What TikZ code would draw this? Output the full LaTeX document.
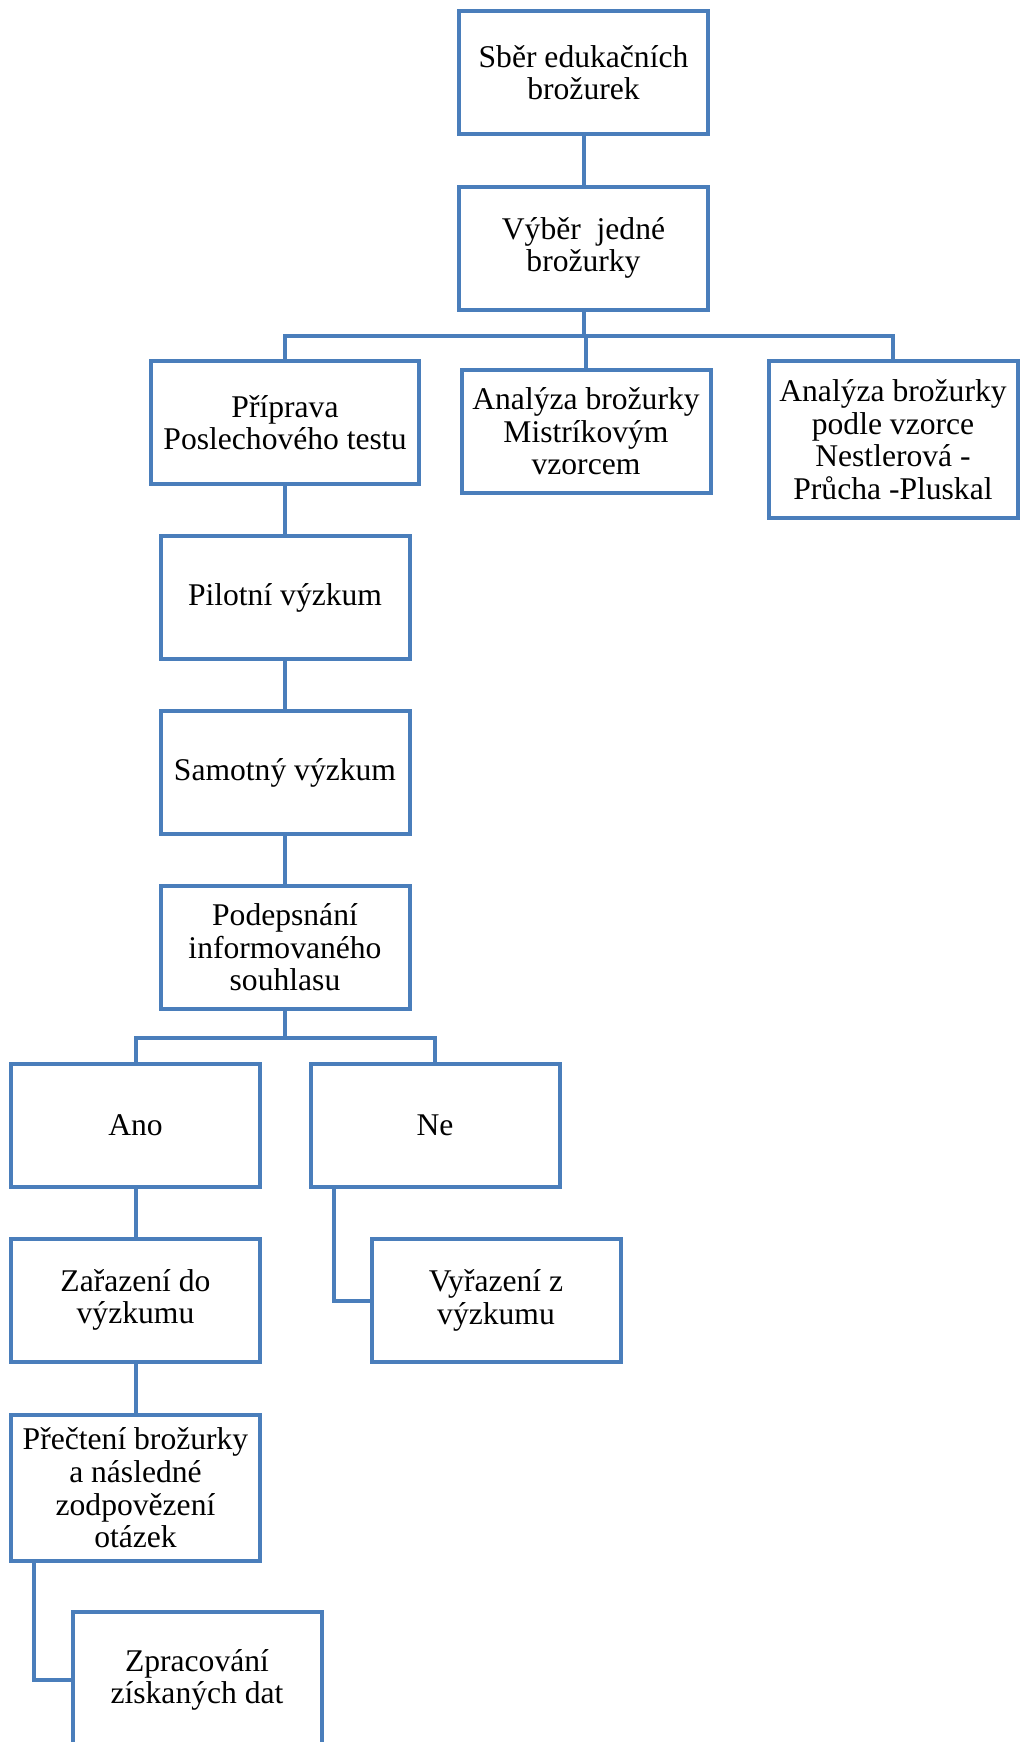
\documentclass[tikz,border=0pt]{standalone}
\usepackage{fontspec}
\setmainfont{Liberation Serif}
\usepackage{xcolor}
\usetikzlibrary{positioning}
\definecolor{boxblue}{RGB}{74,126,187}

\begin{document}
\begin{tikzpicture}[
    x=0.5pt,y=-0.5pt,
    node distance=87.5pt,on grid,
    box/.style={draw=boxblue,line width=2pt,rectangle,align=center,
      minimum width=124.5pt,minimum height=61.5pt,inner sep=2pt,
      font=\fontsize{15.8}{16.3}\selectfont},
    link/.style={draw=boxblue,line width=2pt}
  ]
  \useasboundingbox (0,0) rectangle (1019,1742);
  \node[box] (sber) at (583.5,72.5) {Sběr edukačních\\brožurek};
  \node[box] (vyber) at (583.5,248) {Výběr~~jedné\\brožurky};
  \node[box,minimum width=134pt] (priprava) at (285,422.5) {Příprava\\Poslechového testu};
  \node[box] (mistrik) at (586,431.5) {Analýza brožurky\\Mistríkovým\\vzorcem};
  \node[box,minimum height=78.5pt] (nestler) at (893,439.5)
        {Analýza brožurky\\podle vzorce\\Nestlerová -\\Průcha -Pluskal};
  \node[box] (pilot) [below=of priprava] {Pilotní výzkum};
  \node[box] (samotny) [below=of pilot] {Samotný výzkum};
  \node[box] (podpis) [below=of samotny] {Podepsnání\\informovaného\\souhlasu};
  \node[box] (ano) at (135.5,1125) {Ano};
  \node[box] (ne) at (435,1125) {Ne};
  \node[box] (zarazeni) [below=of ano] {Zařazení do\\výzkumu};
  \node[box] (vyrazeni) at (496,1300.5) {Vyřazení z\\výzkumu};
  \node[box,minimum height=73pt] (precteni) at (135.5,1488)
        {Přečtení brožurky\\a následné\\zodpovězení\\otázek};
  \node[box,minimum height=68pt] (zprac) at (197,1680) {Zpracování\\získaných dat};
  \coordinate (bus) at (583.5,336);
  \coordinate (split) at (285,1038);
  % upper part
  \draw[link] (sber) -- (vyber);
  \draw[link] (vyber) -- (bus);
  \draw[link] (priprava.north) -- (priprava.north |- bus)
    -- (nestler.north |- bus) -- (nestler.north);
  \draw[link] (mistrik.north |- bus) -- (mistrik.north);
  \draw[link] (priprava) -- (pilot);
  \draw[link] (pilot) -- (samotny);
  \draw[link] (samotny) -- (podpis);
  % lower part
  \draw[link] (podpis) -- (split);
  \draw[link] (ano.north) -- (ano.north |- split) -- (ne.north |- split) -- (ne.north);
  \draw[link] (ano) -- (zarazeni);
  \draw[link] ([xshift=12.5pt]ne.south west) |- (vyrazeni.west);
  \draw[link] (zarazeni) -- (precteni);
  \draw[link] ([xshift=12.5pt]precteni.south west) |- (zprac.west);
\end{tikzpicture}
\end{document}
